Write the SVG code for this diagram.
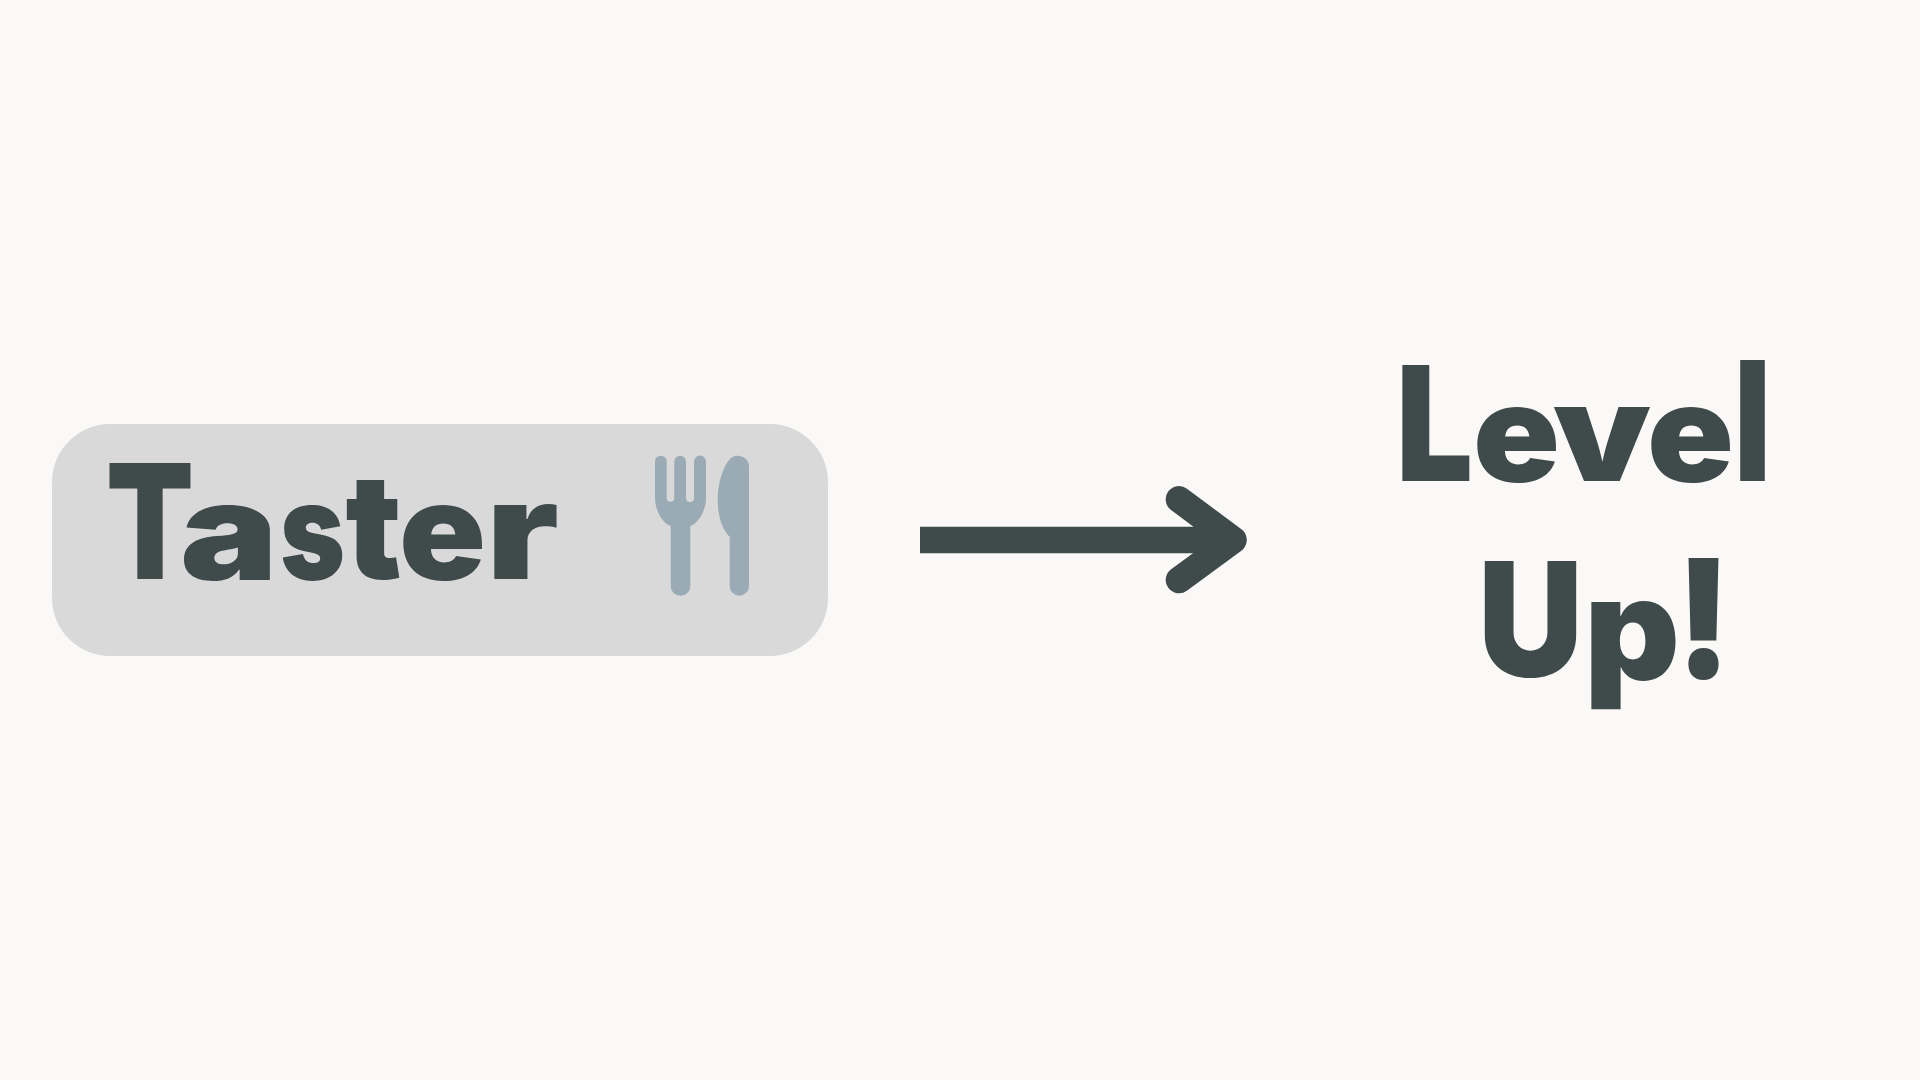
<svg xmlns="http://www.w3.org/2000/svg" width="1920" height="1080" viewBox="0 0 1920 1080">
<style>
.t{font-family:"Inter","Liberation Sans",sans-serif;font-weight:900;fill:#3f4a4a;font-size:160px}
.l{font-size:135px}
.i{fill:#9aabb5}
</style>
<rect width="1920" height="1080" fill="#faf9f7"/>
<g id="taster">
<rect x="52" y="424" width="776" height="232" rx="58" fill="#d9d9d9"/>
<text class="t" y="579"><tspan x="106" textLength="88" lengthAdjust="spacingAndGlyphs">T</tspan><tspan class="l" x="180" y="580" textLength="98" lengthAdjust="spacingAndGlyphs">a</tspan><tspan class="l" x="280" y="580" textLength="65" lengthAdjust="spacingAndGlyphs">s</tspan><tspan x="345.5" y="579" style="font-size:147px" textLength="56" lengthAdjust="spacingAndGlyphs">t</tspan><tspan class="l" x="399" y="580" textLength="87" lengthAdjust="spacingAndGlyphs">e</tspan><tspan class="l" x="486" y="579" textLength="73" lengthAdjust="spacingAndGlyphs">r</tspan></text>
<path class="i" d="M655 461.5a5.85 5.85 0 0 1 11.7 0V498a3.8 3.8 0 0 0 7.6 0V461.5a5.85 5.85 0 0 1 11.7 0V498a4 4 0 0 0 8 0V461.5a6 6 0 0 1 12 0V498C706 510 699 523 690.3 526V586a9.8 9.8 0 0 1-19.6 0V526C662 523 655 510 655 498Z"/>
<path class="i" d="M749 466C749 460 744 455.7 737 455.7C726 455.7 717.7 480 717.7 500C717.7 515 722 530 729.7 536.7V586a9.65 9.65 0 0 0 19.3 0Z"/>
</g>
<g id="connectors">
<path d="M920 540H1233.5" fill="none" stroke="#3f4a4a" stroke-width="26.6"/>
<path d="M1179 499.3L1233.5 540L1179 580" fill="none" stroke="#3f4a4a" stroke-width="26.6" stroke-linejoin="round" stroke-linecap="round"/>
</g>
<g id="levelup">
<text class="t" y="481"><tspan x="1396" textLength="77" lengthAdjust="spacingAndGlyphs">L</tspan><tspan class="l" x="1473" y="482" textLength="87" lengthAdjust="spacingAndGlyphs">e</tspan><tspan class="l" x="1553" y="481" textLength="98" lengthAdjust="spacingAndGlyphs">v</tspan><tspan class="l" x="1647" y="482" textLength="87" lengthAdjust="spacingAndGlyphs">e</tspan><tspan x="1734" y="481" style="font-size:167px" textLength="37" lengthAdjust="spacingAndGlyphs">l</tspan></text>
<text class="t" y="677"><tspan x="1478" textLength="105" lengthAdjust="spacingAndGlyphs">U</tspan><tspan x="1584" y="680" style="font-size:143px" textLength="96" lengthAdjust="spacingAndGlyphs">p</tspan><tspan x="1676" y="678" style="font-size:165px" textLength="55" lengthAdjust="spacingAndGlyphs">!</tspan></text>
</g>
</svg>
